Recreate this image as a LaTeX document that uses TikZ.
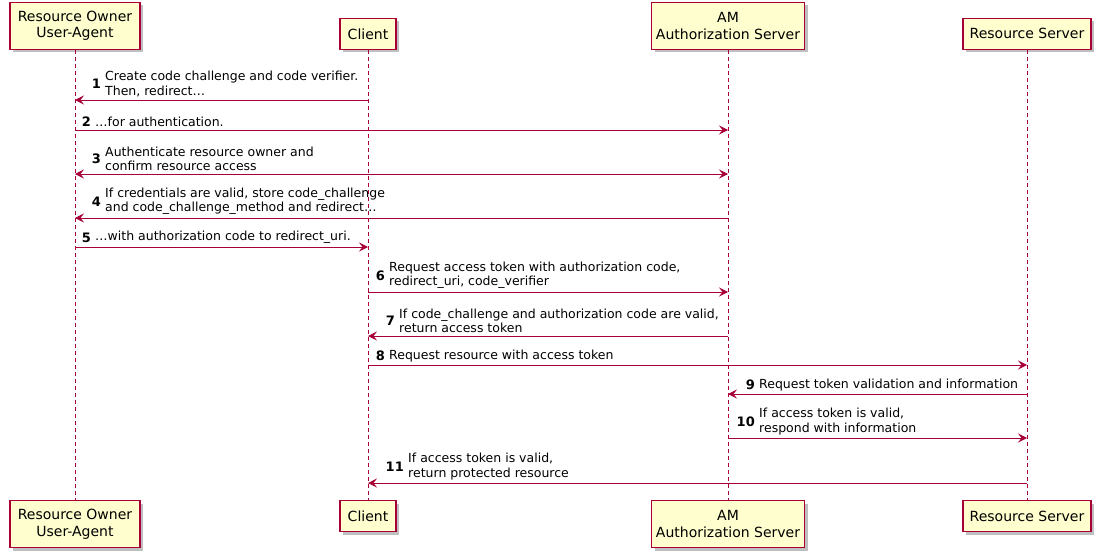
\documentclass[tikz,border=0pt]{standalone}
\usepackage{fontspec}
\setmainfont{DejaVu Sans}
\usetikzlibrary{arrows.meta,shadows,positioning}
\definecolor{umlred}{HTML}{A80036}
\definecolor{umlfill}{HTML}{FEFECE}
\tikzset{
  participant/.style={draw=umlred, fill=umlfill, line width=1.3pt, align=center,
    font=\fontsize{14}{16.5}\selectfont, inner sep=0pt,
    drop shadow={shadow xshift=3pt, shadow yshift=-3pt, fill=black, opacity=0.25}},
  lifeline/.style={umlred, line width=0.7pt, dash pattern=on 4pt off 3pt},
  msgarrow/.style={umlred, line width=0.9pt, -{Stealth[length=9pt, width=9pt, inset=3.5pt]}},
  msgboth/.style={umlred, line width=0.9pt, {Stealth[length=9pt, width=9pt, inset=3.5pt]}-{Stealth[length=9pt, width=9pt, inset=3.5pt]}},
  msgtext/.style={font=\fontsize{12.5}{14.5}\selectfont, align=left, inner sep=0pt, anchor=south west},
  msgnum/.style={font=\fontsize{13}{14.5}\selectfont\bfseries, inner sep=0pt, left=4pt of #1},
}
\begin{document}
\begin{tikzpicture}[x=1pt, y=-1pt]
    \useasboundingbox (0,0) rectangle (1101,557);

    % Partecipanti (in alto e in basso)
    \node[participant, minimum width=130pt, minimum height=47pt, anchor=south] (ro) at (75,50) {Resource Owner\\User-Agent};
    \node[participant, minimum width=56pt, minimum height=31pt, anchor=south] (client) at (368,50) {Client};
    \node[participant, minimum width=153pt, minimum height=47pt, anchor=south] (am) at (728,50) {AM\\Authorization Server};
    \node[participant, minimum width=128pt, minimum height=31pt, anchor=south] (rs) at (1027,50) {Resource Server};

    \node[participant, minimum width=130pt, minimum height=47pt, anchor=north] (rob) at (75,500) {Resource Owner\\User-Agent};
    \node[participant, minimum width=56pt, minimum height=31pt, anchor=north] (clientb) at (368,500) {Client};
    \node[participant, minimum width=153pt, minimum height=47pt, anchor=north] (amb) at (728,500) {AM\\Authorization Server};
    \node[participant, minimum width=128pt, minimum height=31pt, anchor=north] (rsb) at (1027,500) {Resource Server};

    % Linee di vita
    \draw[lifeline] (ro) -- (rob);
    \draw[lifeline] (client) -- (clientb);
    \draw[lifeline] (am) -- (amb);
    \draw[lifeline] (rs) -- (rsb);

    % 1
    \draw[msgarrow] (client |- 0,100) -- (ro |- 0,100);
    \node[msgtext] (t1) at (105,97) {Create code challenge and code verifier.\\Then, redirect…};
    \node[msgnum=t1] (n1) {1};
    % 2
    \draw[msgarrow] (ro |- 0,130) -- (am |- 0,130);
    \node[msgtext] (t2) at (95,127) {…for authentication.};
    \node[msgnum=t2] (n2) {2};
    % 3
    \draw[msgboth] (ro |- 0,174) -- (am |- 0,174);
    \node[msgtext] (t3) at (105,171) {Authenticate resource owner and\\confirm resource access};
    \node[msgnum=t3] (n3) {3};
    % 4
    \draw[msgarrow] (am |- 0,218) -- (ro |- 0,218);
    \node[msgtext] (t4) at (105,215) {If credentials are valid, store code\_challenge\\and code\_challenge\_method and redirect…};
    \node[msgnum=t4] (n4) {4};
    % 5
    \draw[msgarrow] (ro |- 0,247) -- (client |- 0,247);
    \node[msgtext] (t5) at (95,244) {…with authorization code to redirect\_uri.};
    \node[msgnum=t5] (n5) {5};
    % 6
    \draw[msgarrow] (client |- 0,292) -- (am |- 0,292);
    \node[msgtext] (t6) at (389,289) {Request access token with authorization code,\\redirect\_uri, code\_verifier};
    \node[msgnum=t6] (n6) {6};
    % 7
    \draw[msgarrow] (am |- 0,336) -- (client |- 0,336);
    \node[msgtext] (t7) at (399,333) {If code\_challenge and authorization code are valid,\\return access token};
    \node[msgnum=t7] (n7) {7};
    % 8
    \draw[msgarrow] (client |- 0,365) -- (rs |- 0,365);
    \node[msgtext] (t8) at (389,362) {Request resource with access token};
    \node[msgnum=t8] (n8) {8};
    % 9
    \draw[msgarrow] (rs |- 0,394) -- (am |- 0,394);
    \node[msgtext] (t9) at (759,391) {Request token validation and information};
    \node[msgnum=t9] (n9) {9};
    % 10
    \draw[msgarrow] (am |- 0,438) -- (rs |- 0,438);
    \node[msgtext] (t10) at (759,435) {If access token is valid,\\respond with information};
    \node[msgnum=t10] (n10) {10};
    % 11
    \draw[msgarrow] (rs |- 0,483) -- (client |- 0,483);
    \node[msgtext] (t11) at (408,480) {If access token is valid,\\return protected resource};
    \node[msgnum=t11] (n11) {11};
\end{tikzpicture}
\end{document}
